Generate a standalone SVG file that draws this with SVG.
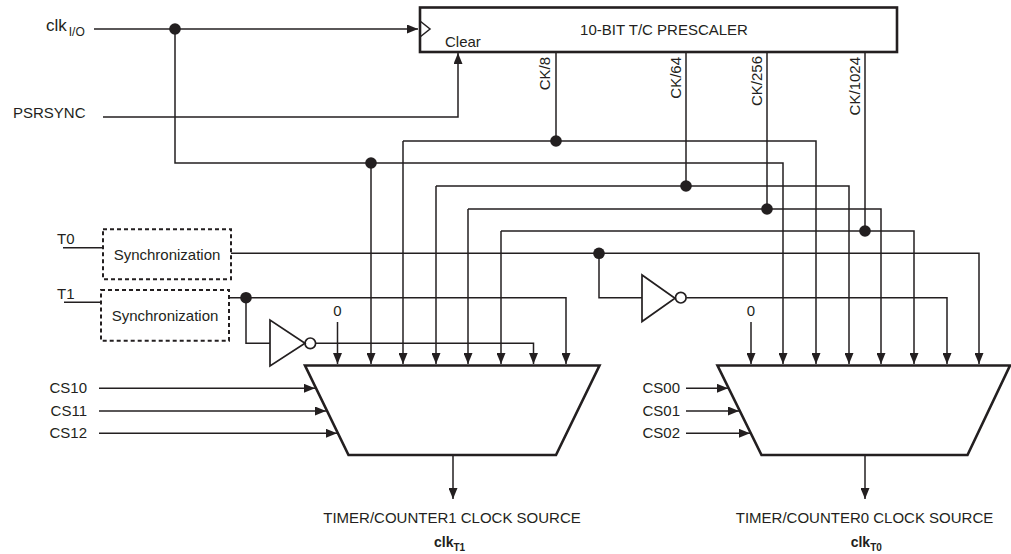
<svg xmlns="http://www.w3.org/2000/svg" width="1011" height="554" viewBox="0 0 1011 554">
<style>
text{font-family:"Liberation Sans",Arial,sans-serif;fill:#231f20;font-size:15px}
.w{fill:none;stroke:#231f20;stroke-width:1.5}
.a{fill:none;stroke:#231f20;stroke-width:1.5;marker-end:url(#arr)}
.box{fill:none;stroke:#231f20;stroke-width:2.6}
.dash{fill:#fff;stroke:#231f20;stroke-width:2;stroke-dasharray:4 3}
.dot{fill:#231f20}
.b{font-weight:bold}
</style>
<defs>
<marker id="arr" viewBox="0 0 11 9" refX="11" refY="4.5" markerWidth="11" markerHeight="9" orient="auto" markerUnits="userSpaceOnUse">
<path d="M0,0 L11,4.5 L0,9 z" fill="#231f20"/>
</marker>
</defs>
<rect width="1011" height="554" fill="#fff"/>

<g id="connectors">
<path class="a" d="M94,29 H418"/>
<path class="a" d="M175,29 V163 H783 V364"/>
<path class="a" d="M371,163 V364"/>
<path class="a" d="M103,117 H458 V53"/>
<path class="w" d="M556,52 V141"/>
<path class="a" d="M403,141 V364"/>
<path class="a" d="M403,141 H816 V364"/>
<path class="w" d="M686,52 V186"/>
<path class="a" d="M436,186 V364"/>
<path class="a" d="M436,186 H849 V364"/>
<path class="w" d="M767,52 V209"/>
<path class="a" d="M468,209 V364"/>
<path class="a" d="M468,209 H881 V364"/>
<path class="w" d="M865,52 V231"/>
<path class="a" d="M501,231 V364"/>
<path class="a" d="M501,231 H914 V364"/>
<path class="w" d="M63,247.7 H102"/>
<path class="a" d="M231,253.3 H979 V364"/>
<path class="w" d="M599,253.3 V297.7 H642"/>
<path class="a" d="M686.5,297.7 H947 V364"/>
<path class="w" d="M64,302.3 H101"/>
<path class="a" d="M229,297.7 H566 V364"/>
<path class="w" d="M246,297.7 V343.3 H270"/>
<path class="a" d="M315.5,343.3 H533.5 V364"/>
<path class="a" d="M337.5,322 V364"/>
<path class="a" d="M751,322 V364"/>
<path class="a" d="M99,388.3 H315"/>
<path class="a" d="M99,411 H326"/>
<path class="a" d="M99,433.3 H337"/>
<path class="a" d="M686,388.3 H728"/>
<path class="a" d="M686,411 H739"/>
<path class="a" d="M686,433.3 H750"/>
<path class="a" d="M453,455 V499"/>
<path class="a" d="M865,455 V499"/>
<circle class="dot" cx="175" cy="29" r="5.8"/>
<circle class="dot" cx="371" cy="163" r="5.8"/>
<circle class="dot" cx="556" cy="141" r="5.8"/>
<circle class="dot" cx="686" cy="186" r="5.8"/>
<circle class="dot" cx="767" cy="209" r="5.8"/>
<circle class="dot" cx="865" cy="231" r="5.8"/>
<circle class="dot" cx="599" cy="253.3" r="5.8"/>
<circle class="dot" cx="246" cy="297.7" r="5.8"/>
</g>

<g id="prescaler">
<rect class="box" x="420" y="7.5" width="477" height="44.5"/>
<path class="w" d="M420,21 L430,29 L420,37"/>
<text x="664" y="35" text-anchor="middle">10-BIT T/C PRESCALER</text>
<text x="445" y="47">Clear</text>
<text transform="translate(550,57) rotate(-90)" text-anchor="end">CK/8</text>
<text transform="translate(680.7,57) rotate(-90)" text-anchor="end">CK/64</text>
<text transform="translate(761.7,56) rotate(-90)" text-anchor="end">CK/256</text>
<text transform="translate(860,57) rotate(-90)" text-anchor="end">CK/1024</text>
</g>

<g id="inputs">
<text x="46" y="31" style="font-size:17px">clk<tspan dx="2" dy="5" style="font-size:12px">I/O</tspan></text>
<text x="13" y="118">PSRSYNC</text>
<text x="57" y="244">T0</text>
<text x="57" y="299">T1</text>
</g>

<g id="sync0">
<rect class="dash" x="103" y="229.3" width="128" height="50"/>
<text x="167" y="260" text-anchor="middle">Synchronization</text>
</g>
<g id="sync1">
<rect class="dash" x="101" y="290" width="128" height="50.7"/>
<text x="165" y="321" text-anchor="middle">Synchronization</text>
</g>

<g id="inv0">
<path class="w" d="M642,275 L642,321.5 L675,298.3 Z" style="stroke-width:1.7"/>
<circle class="w" cx="680.8" cy="297.7" r="5.3" style="stroke-width:1.7"/>
</g>
<g id="inv1">
<path class="w" d="M270,320 L270,366 L305,343.3 Z" style="stroke-width:1.7"/>
<circle class="w" cx="310.3" cy="343.3" r="5.3" style="stroke-width:1.7"/>
</g>

<g id="mux1">
<path class="box" d="M305,365.5 H599.5 L556,455 H348.5 Z"/>
<text x="337.5" y="315.7" text-anchor="middle">0</text>
<text x="87" y="393" text-anchor="end">CS10</text>
<text x="87" y="415.5" text-anchor="end">CS11</text>
<text x="87" y="437.5" text-anchor="end">CS12</text>
<text x="452" y="522.7" text-anchor="middle">TIMER/COUNTER1 CLOCK SOURCE</text>
<text x="434" y="546.7" class="b" style="font-size:14px">clk<tspan dy="4" style="font-size:10px">T1</tspan></text>
</g>

<g id="mux0">
<path class="box" d="M717.5,365.5 H1010 L967.5,455 H761.5 Z"/>
<text x="751" y="315.7" text-anchor="middle">0</text>
<text x="680" y="393" text-anchor="end">CS00</text>
<text x="680" y="415.5" text-anchor="end">CS01</text>
<text x="680" y="437.5" text-anchor="end">CS02</text>
<text x="864.5" y="522.7" text-anchor="middle">TIMER/COUNTER0 CLOCK SOURCE</text>
<text x="850.7" y="546.7" class="b" style="font-size:14px">clk<tspan dy="4" style="font-size:10px">T0</tspan></text>
</g>
</svg>
